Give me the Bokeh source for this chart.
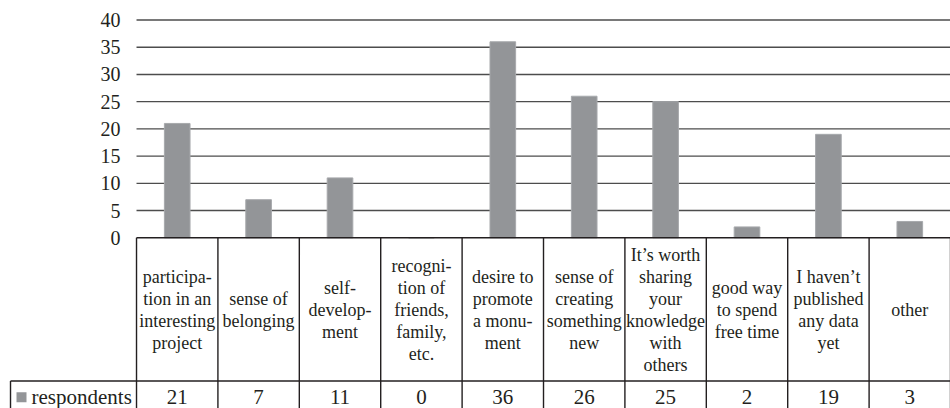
from bokeh.plotting import figure
from bokeh.models import Range1d, ColumnDataSource
from bokeh.core.properties import value
from bokeh.embed import file_html
from bokeh.resources import INLINE

# ---- data ----
categories = [
    "participa-\ntion in an\ninteresting\nproject",
    "sense of\nbelonging",
    "self-\ndevelop-\nment",
    "recogni-\ntion of\nfriends,\nfamily,\netc.",
    "desire to\npromote\na monu-\nment",
    "sense of\ncreating\nsomething\nnew",
    "It\u2019s worth\nsharing\nyour\nknowledge\nwith\nothers",
    "good way\nto spend\nfree time",
    "I haven\u2019t\npublished\nany data\nyet",
    "other",
]
respondents = [21, 7, 11, 0, 36, 26, 25, 2, 19, 3]
series_name = "respondents"
y_ticks = [0, 5, 10, 15, 20, 25, 30, 35, 40]

# ---- styling / layout constants ----
FONT = value("Liberation Serif")
TEXT = "#231f20"
BAR = "#939598"
GRID = "#4d4d4d"
LINE = "#231f20"

n = len(categories)
x_left = -1.671
y_top, y_bottom = 43.58, -31.35
row_split = -26.3    # boundary between label row and value row
label_y = -13.35
value_y = -29.27
cell_left = -1.548

p = figure(width=950, height=408, x_range=Range1d(x_left, n),
           y_range=Range1d(y_bottom, y_top),
           x_axis_type=None, y_axis_type=None,
           output_backend="svg", toolbar_location=None,
           min_border=0, outline_line_color=None)
p.background_fill_color = "white"
p.border_fill_color = "white"

centers = [i + 0.5 for i in range(n)]

# horizontal gridlines (y ticks), excluding 0 which is the table top border
grid_y = [t for t in y_ticks if t != 0]
p.segment(x0=[0] * len(grid_y), x1=[n + 0.02] * len(grid_y), y0=grid_y, y1=grid_y,
          line_color=GRID, line_width=1.4)

# y tick labels
p.text(x=[-0.197] * len(y_ticks), y=y_ticks, text=[str(t) for t in y_ticks],
       text_font=FONT, text_font_size="20px", text_color=TEXT,
       text_align="right", text_baseline="middle")

# bars
src = ColumnDataSource(dict(x=centers, top=respondents, cat=categories,
                            val=[str(v) for v in respondents]))
p.vbar(x="x", top="top", bottom=0, width=0.315, source=src,
       fill_color=BAR, line_color="#a7a9ac", line_width=1)

# table lines
p.segment(x0=[0], x1=[n + 0.02], y0=[0], y1=[0], line_color=LINE, line_width=1.5)
p.segment(x0=list(range(n + 1)), x1=list(range(n + 1)),
          y0=[0] * (n + 1), y1=[y_bottom] * (n + 1), line_color=LINE, line_width=1.4)
p.segment(x0=[cell_left], x1=[n + 0.02], y0=[row_split], y1=[row_split],
          line_color=LINE, line_width=1.4)
p.segment(x0=[cell_left], x1=[cell_left], y0=[row_split], y1=[y_bottom],
          line_color=LINE, line_width=1.4)

# category labels
p.text(x="x", y=label_y, text="cat", source=src, text_font=FONT,
       text_font_size="18px", text_color=TEXT, text_align="center",
       text_baseline="middle", text_line_height=1.1)

# values row
p.text(x="x", y=value_y, text="val", source=src, text_font=FONT,
       text_font_size="21px", text_color=TEXT, text_align="center",
       text_baseline="middle")

# legend key and series name
p.scatter(x=[-1.413], y=[value_y], marker="square", size=10,
          fill_color=BAR, line_color=None)
p.text(x=[-1.29], y=[value_y], text=[series_name], text_font=FONT,
       text_font_size="21px", text_color=TEXT, text_align="left",
       text_baseline="middle")

open("out.html", "w").write(file_html(p, INLINE))
